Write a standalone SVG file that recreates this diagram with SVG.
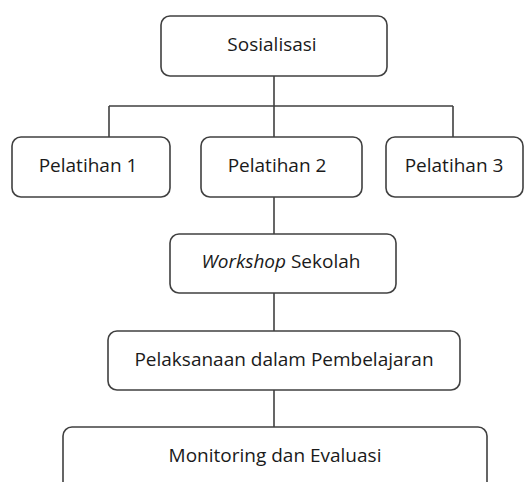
<svg xmlns="http://www.w3.org/2000/svg" width="529" height="482" viewBox="0 0 529 482">
<style>
.box{fill:#fff;stroke:#404040;stroke-width:1.6}
.ln{fill:none;stroke:#404040;stroke-width:1.6}
text{font-family:"Open Sans","Noto Sans","DejaVu Sans",sans-serif;font-size:19px;fill:#1a1a1a;text-anchor:middle}
</style>
<rect width="529" height="482" fill="#fff"/>
<g id="connectors">
<path class="ln" d="M274 76V106M109 106H453M109 106V137M453 106V137M274 106V137"/>
<path class="ln" d="M274 197V234"/>
<path class="ln" d="M274 293V331"/>
<path class="ln" d="M274 390V427"/>
</g>
<g id="sosialisasi"><rect class="box" x="161" y="16" width="226" height="60" rx="9"/><text x="272" y="51">Sosialisasi</text></g>
<g id="pelatihan1"><rect class="box" x="12" y="137" width="158" height="60" rx="9"/><text x="88" y="172">Pelatihan 1</text></g>
<g id="pelatihan2"><rect class="box" x="201" y="137" width="161" height="60" rx="9"/><text x="277" y="172">Pelatihan 2</text></g>
<g id="pelatihan3"><rect class="box" x="386" y="137" width="137" height="60" rx="9"/><text x="454" y="172">Pelatihan 3</text></g>
<g id="workshop"><rect class="box" x="170" y="234" width="226" height="59" rx="9"/><text x="281" y="268"><tspan font-style="italic">Workshop</tspan> Sekolah</text></g>
<g id="pelaksanaan"><rect class="box" x="108" y="331" width="352" height="59" rx="9"/><text x="284" y="366">Pelaksanaan dalam Pembelajaran</text></g>
<g id="monitoring"><rect class="box" x="63" y="427" width="424" height="70" rx="9"/><text x="275" y="462">Monitoring dan Evaluasi</text></g>
</svg>
